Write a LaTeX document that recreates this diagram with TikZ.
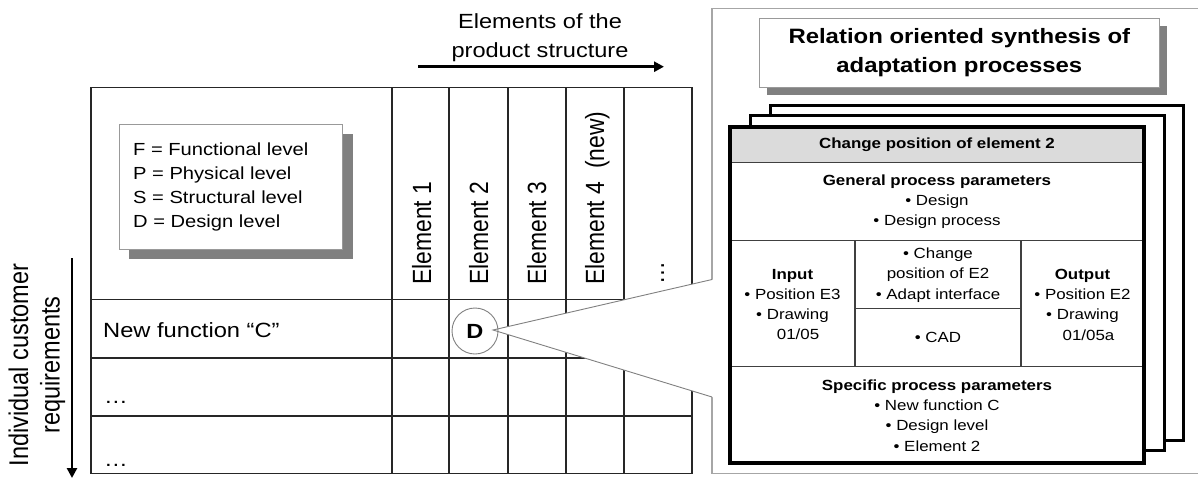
\documentclass[tikz,border=0pt]{standalone}
\usepackage{fontspec}
\setmainfont{Liberation Sans}[FakeStretch=1.15]
\newfontfamily\rotfont{Liberation Sans}
\usetikzlibrary{arrows.meta}

\tikzset{
  tline/.style={draw=black!85, line width=1.1pt},
  inline/.style={draw=black!75, line width=1.2pt},
  cardbox/.style={draw=black, line width=3pt, fill=white},
  rotlabel/.style={rotate=90, anchor=base west, inner sep=0pt,
    font=\rotfont\fontsize{22.9}{27}\selectfont},
  cardtext/.style={align=center, inner sep=0pt, font=\fontsize{14.7}{20.3}\selectfont},
  softbox/.style={draw=black!40, line width=0.9pt, fill=white},
  shadowfill/.style={fill=black!50, draw=none},
  bigarrow/.style={line width=2.7pt, -{Triangle[length=10pt,width=10pt]}},
}

\begin{document}
\begin{tikzpicture}[x=1pt,y=-1pt]
\useasboundingbox (0,0) rectangle (1198,479);

% ---------- heading and arrow over the element columns
\node[align=center, inner sep=0pt, font=\fontsize{20.5}{28.4}\selectfont]
  (colhead) at (540,37.5) {Elements of the\\product structure};
\coordinate (ca) at (418,66.7);
\coordinate (cb) at (664,66.7);
\draw[bigarrow] (ca) -- (cb);

% ---------- side label and downward arrow
\node[rotate=90, inner sep=0pt, font=\rotfont\fontsize{23.5}{27.5}\selectfont]
  (rowhead) at (37.5,365)
  {\scalebox{1}[1.15]{\begin{tabular}{@{}c@{}}Individual customer\\requirements\end{tabular}}};
\coordinate (ra) at (72,258);
\coordinate (rb) at (72,478);
\draw[bigarrow] (ra) -- (rb);

% ---------- matrix grid
\draw[tline] (91,87.7) rectangle (692,473.5);
\foreach \yy in {299.5,358,416}
  \draw[tline] (91,\yy) -- (692,\yy);
\foreach \xx in {392,449,508,566,624}
  \draw[tline] (\xx,87.7) -- (\xx,473.5);

% ---------- legend box with drop shadow
\fill[shadowfill] (129.3,134) rectangle (353.3,259);
\draw[softbox] (119.3,124.3) rectangle (342.3,249);
\node[anchor=west, align=left, inner sep=0pt, font=\fontsize{17.5}{24.2}\selectfont]
  (legend) at (133,187)
  {F = Functional level\\P = Physical level\\S = Structural level\\D = Design level};

% ---------- column labels
\node[rotlabel] (el1) at (431,285) {\scalebox{1}[1.15]{Element 1}};
\node[rotlabel] (el2) at (488,285) {\scalebox{1}[1.15]{Element 2}};
\node[rotlabel] (el3) at (546,285) {\scalebox{1}[1.15]{Element 3}};
\node[rotlabel] (el4) at (604,285) {\scalebox{1}[1.15]{Element 4~~(new)}};
\node[rotlabel] (elx) at (664,285) {\scalebox{1}[1.15]{…}};

% ---------- row labels
\node[anchor=west, inner sep=0pt, font=\fontsize{20.6}{24}\selectfont]
  (row1) at (103,330) {New function “C”};
\node[anchor=base west, inner sep=0pt, font=\fontsize{20.6}{24}\selectfont]
  (row2) at (104,403) {…};
\node[anchor=base west, inner sep=0pt, font=\fontsize{20.6}{24}\selectfont]
  (row3) at (104,466) {…};

% ---------- frame of the synthesis panel
\draw[draw=black!35, line width=1.3pt] (712,8.3) rectangle (1204,473.3);

% ---------- callout from the marked cell into the panel
\coordinate (tip) at (493,330);
\coordinate (ct) at (712,279.5);
\coordinate (cbm) at (712,397);
\fill[white] (tip) -- (ct) -- ([xshift=2pt]ct) -- ([xshift=2pt]cbm) -- (cbm) -- cycle;
\draw[draw=black!50, line width=0.9pt] (ct) -- (tip) -- (cbm);

% ---------- marked cell
\node[circle, draw=black!50, line width=0.9pt, minimum size=46pt, inner sep=0pt,
  font=\bfseries\fontsize{20.5}{22}\selectfont] (dmark) at (475,331) {D};

% ---------- panel title with drop shadow
\fill[shadowfill] (767,26.3) rectangle (1167,95.3);
\draw[softbox] (759.3,18.3) rectangle (1159.3,87.3);
\node[align=center, inner sep=0pt, font=\bfseries\fontsize{20.8}{29}\selectfont]
  (title) at (959.3,52.8) {Relation oriented synthesis of\\adaptation processes};

% ---------- stacked process cards
\draw[cardbox] (770,105) rectangle (1183.3,440);
\draw[cardbox] (750,115) rectangle (1164,450.5);
\fill[white] (730,127) rectangle (1144,463);
\fill[black!14] (730,127) rectangle (1144,162.3);
\draw[inline] (730,162.3) -- (1144,162.3);
\draw[inline] (730,240.7) -- (1144,240.7);
\draw[inline] (730,366.7) -- (1144,366.7);
\draw[inline] (855,240.7) -- (855,366.7);
\draw[inline] (1021,240.7) -- (1021,366.7);
\draw[inline] (855,308.3) -- (1021,308.3);
\draw[draw=black, line width=3.2pt] (730,127) rectangle (1144,463);

\node[cardtext, font=\bfseries\fontsize{14.7}{20.3}\selectfont]
  (chead) at (937,145) {Change position of element 2};
\node[cardtext] (cgen) at (937,201.5)
  {{\bfseries General process parameters}\\• Design\\• Design process};
\node[cardtext] (cin) at (792.5,304.5)
  {{\bfseries Input}\\• Position E3\\• Drawing\\\hspace*{11pt}01/05};
\node[cardtext] (cact) at (938,275)
  {• Change\\position of E2\\• Adapt interface};
\node[cardtext] (ctool) at (938,337.5) {• CAD};
\node[cardtext] (cout) at (1082.5,304.5)
  {{\bfseries Output}\\• Position E2\\• Drawing\\\hspace*{12pt}01/05a};
\node[cardtext] (cspec) at (937,415.5)
  {{\bfseries Specific process parameters}\\• New function C\\• Design level\\• Element 2};
\end{tikzpicture}
\end{document}
